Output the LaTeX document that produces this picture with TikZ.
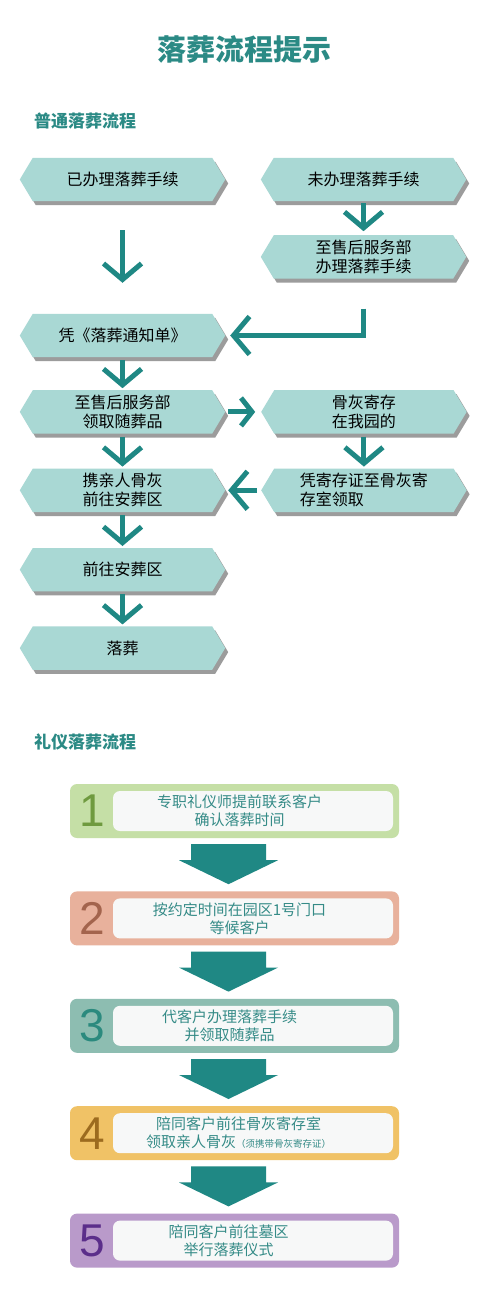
\documentclass[tikz,border=0pt]{standalone}
\usepackage{fontspec}
\setmainfont{Noto Sans CJK SC}
\newfontfamily\numfont{Liberation Sans}
\usetikzlibrary{arrows.meta, positioning, backgrounds, shadows, calc}

\definecolor{headteal}{HTML}{2B8A85}
\definecolor{flowteal}{HTML}{1F8884}
\definecolor{hexfill}{HTML}{A9D8D4}
\definecolor{stepwhite}{HTML}{F7F8F8}
\definecolor{steptextc}{HTML}{358B87}
\definecolor{fillone}{HTML}{C5DFA6}
\definecolor{numone}{HTML}{6F9A3F}
\definecolor{filltwo}{HTML}{E8B19C}
\definecolor{numtwo}{HTML}{A3644D}
\definecolor{fillthree}{HTML}{8DBDB1}
\definecolor{numthree}{HTML}{2B8A7E}
\definecolor{fillfour}{HTML}{F0C266}
\definecolor{numfour}{HTML}{9C6B1F}
\definecolor{fillfive}{HTML}{B99ACA}
\definecolor{numfive}{HTML}{5B2E8A}

\begin{document}
\begin{tikzpicture}[x=1pt, y=-1pt,
        hexbox/.style={minimum width=205pt, minimum height=43pt, inner sep=0pt, align=center, font=\fontsize{16}{19}\selectfont},
        flow/.style={draw=flowteal, line width=5pt, -{Straight Barb[length=16pt, width=38pt]}},
        sideflow/.style={draw=flowteal, line width=5pt, -{Straight Barb[length=11pt, width=28pt]}},
        stepbox/.style={rounded corners=7pt, minimum width=329pt, minimum height=54pt},
        inbox/.style={fill=stepwhite, rounded corners=7pt, minimum width=280pt, minimum height=40pt},
        stepnum/.style={font=\numfont\fontsize{46}{46}\selectfont},
        steptext/.style={text=steptextc, align=center, font=\fontsize{15}{18}\selectfont},
        heading/.style={anchor=west, inner sep=0pt, text=headteal, font=\bfseries\fontsize{17}{17}\selectfont}
    ]

    \useasboundingbox (0,0) rectangle (500,1298);

    % Title
    \node[text=headteal, font=\bfseries\fontsize{29}{29}\selectfont] (title) at (244,49) {落葬流程提示};

    % Ordinary flow
    \node[heading] (plain) at (34,121) {普通落葬流程};

    \node[hexbox] (done) at (122.5,179.5) {已办理落葬手续};
    \node[hexbox] (todo) at (363.5,179.5) {未办理落葬手续};
    \node[hexbox, below=34pt of todo] (todo2) {至售后服务部\\办理落葬手续};
    \node[hexbox] (notice) at (122.5,335.5) {凭《落葬通知单》};
    \node[hexbox, below=33pt of notice] (receive) {至售后服务部\\领取随葬品};
    \node[hexbox, right=36pt of receive] (store) {骨灰寄存\\在我园的};
    \node[hexbox, below=35pt of receive] (carry) {携亲人骨灰\\前往安葬区};
    \node[hexbox, right=36pt of carry, align=left] (claim) {凭寄存证至骨灰寄\\存室领取};
    \node[hexbox, below=36pt of carry] (goto) {前往安葬区};
    \node[hexbox, below=35pt of goto] (bury) {落葬};

    \begin{scope}[on background layer]
        \fill[white] (0,0) rectangle (500,1298);
        \foreach \n in {done,todo,todo2,notice,receive,store,carry,claim,goto,bury}
            \fill[hexfill, drop shadow={shadow xshift=3pt, shadow yshift=-4pt, fill=black!55, opacity=0.7}]
                (\n.west) -- ([xshift=13pt]\n.north west) -- ([xshift=-13pt]\n.north east) -- (\n.east)
                -- ([xshift=-13pt]\n.south east) -- ([xshift=13pt]\n.south west) -- cycle;
    \end{scope}

    % Arrows
    \draw[flow, shorten <=29pt, shorten >=31pt] (done) -- (notice);
    \draw[flow, shorten <=2pt, shorten >=4pt] (todo) -- (todo2);
    \draw[flow, shorten <=30pt, shorten >=5pt] (todo2) |- (notice);
    \draw[flow, shorten <=3pt, shorten >=2pt] (notice) -- (receive);
    \draw[sideflow, shorten <=3pt, shorten >=6pt] (receive) -- (store);
    \draw[flow, shorten <=3pt, shorten >=2pt] (receive) -- (carry);
    \draw[flow, shorten <=3pt, shorten >=2pt] (store) -- (claim);
    \draw[flow, shorten <=4pt, shorten >=3pt] (claim) -- (carry);
    \draw[flow, shorten <=3pt, shorten >=2pt] (carry) -- (goto);
    \draw[flow, shorten <=3pt, shorten >=2pt] (goto) -- (bury);

    % Ceremony flow
    \node[heading] (rite) at (34,742) {礼仪落葬流程};

    \node[stepbox, fill=fillone] (step1) at (234.5,811) {};
    \node[stepbox, fill=filltwo, below=53pt of step1] (step2) {};
    \node[stepbox, fill=fillthree, below=53pt of step2] (step3) {};
    \node[stepbox, fill=fillfour, below=53pt of step3] (step4) {};
    \node[stepbox, fill=fillfive, below=53pt of step4] (step5) {};

    \foreach \s/\c in {1/numone, 2/numtwo, 3/numthree, 4/numfour, 5/numfive} {
        \node[inbox, anchor=east] (in\s) at ([xshift=-6pt]step\s.east) {};
        \node[stepnum, text=\c] (n\s) at ([xshift=22pt]step\s.west) {\s};
    }

    \node[steptext] (t1) at ([xshift=5pt]step1.center) {专职礼仪师提前联系客户\\确认落葬时间};
    \node[steptext] (t2) at ([xshift=5pt]step2.center) {按约定时间在园区1号门口\\等候客户};
    \node[steptext] (t3) at ([xshift=-5pt]step3.center) {代客户办理落葬手续\\并领取随葬品};
    \node[steptext] (t4) at ([xshift=4pt]step4.center) {陪同客户前往骨灰寄存室\\领取亲人骨灰{\fontsize{9.5}{10}\selectfont（须携带骨灰寄存证）}};
    \node[steptext] (t5) at ([xshift=-6pt]step5.center) {陪同客户前往墓区\\举行落葬仪式};

    % Block arrows
    \foreach \a/\b in {step1/step2, step2/step3, step3/step4, step4/step5}
        \fill[flowteal] ($(\a.south)+(-43.5,6)$) -- ++(75,0) -- ++(0,16) -- ++(12,0)
            -- ($(\b.north)+(-6,-7)$) -- ($(\a.south)+(-55.5,22)$) -- ++(12,0) -- cycle;

\end{tikzpicture}
\end{document}
